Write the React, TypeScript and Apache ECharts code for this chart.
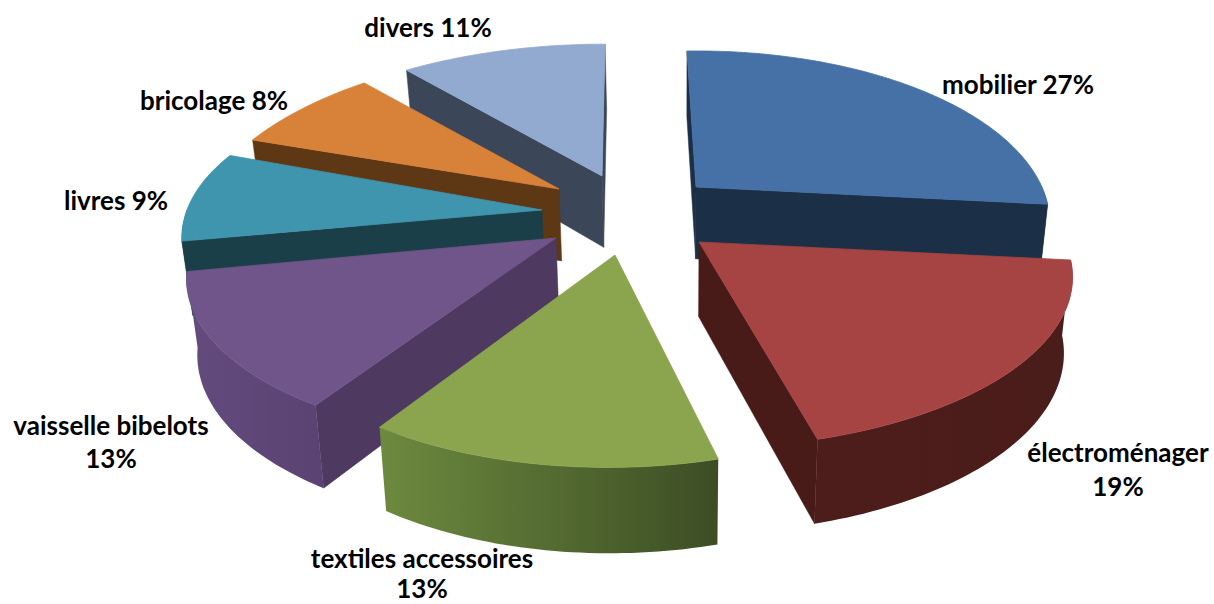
import React, { useEffect, useRef } from "react";
import * as echarts from "echarts";

// Data, in pie order (clockwise from 12 o'clock)
const categories = ["mobilier", "électroménager", "textiles accessoires", "vaisselle bibelots", "livres", "bricolage", "divers"];
const values = [27, 19, 13, 13, 9, 8, 11];
const labelBreak = [false, true, true, true, false, false, false];

// Styles
const topColors = ["#4571a6", "#a54442", "#8aa54e", "#6f5589", "#4095ae", "#d88239", "#92a9d0"];
const sideColors = ["#1b2f47", "#481b18", "#4c6030", "#4e3960", "#1b3f49", "#5e3714", "#3b4658"];
const rimLeft = ["#1b2f47", "#4c1d1b", "#6d8a3f", "#634b7e", "#1b3f49", "#5e3714", "#3b4658"];
const rimRight = ["#1b2f47", "#4a1c1a", "#3c4d24", "#5a4272", "#1b3f49", "#5e3714", "#3b4658"];

// Layout: exploded apex of each slice, per-slice perspective fit, label anchor
const apexX = [696, 699, 615, 556, 542, 559, 602];
const apexY = [187, 242, 255, 238, 210, 189, 176];
const sliceScaleX = [0.94, 0.995, 0.963, 0.983, 0.97, 0.97, 0.985];
const sliceScaleY = [1, 0.99, 1.02, 0.985, 0.97, 1.027, 0.97];
const sliceLean = [9, 5, -7, -7.2, 15, 0, -3];
const sliceShear = [-4, -3, 0, -2, 0, -9.4, 0];
const labelX = [1018, 1118, 422, 111, 116, 214, 428];
const labelY = [84, 469, 573, 441, 200, 100, 27];
const labelLine = [34, 34, 30, 33, 34, 34, 34];
const drawOrder = [6, 5, 4, 0, 3, 1, 2];

const RX = 366;
const RY = 164.5;
const PERSP = 0.21;
const VANISH_X = 680;
const VANISH_K = 0.022;
const FONT = 'bold 26px Lato, "Open Sans", sans-serif';

const total = values.reduce((a, b) => a + b, 0);
const cumulative = values.map((_, i) => values.slice(0, i).reduce((a, b) => a + b, 0));

type P = [number, number];

function rimPoint(i: number, theta: number): P {
  const X = Math.sin(theta);
  const Y = -Math.cos(theta);
  const w = 1 - PERSP * Y;
  return [
    apexX[i] + (sliceScaleX[i] * RX * X) / w + sliceLean[i] * Y,
    apexY[i] + (sliceScaleY[i] * RY * Y) / w + sliceShear[i] * X,
  ];
}

function drop(p: P): P {
  const depth = 72 + 0.05 * (p[1] - 190);
  return [p[0] - (p[0] - VANISH_X) * VANISH_K, p[1] + depth];
}

function arc(i: number, a0: number, a1: number): P[] {
  const n = Math.max(2, Math.ceil(Math.abs(a1 - a0) / 0.02));
  const pts: P[] = [];
  for (let k = 0; k <= n; k++) pts.push(rimPoint(i, a0 + ((a1 - a0) * k) / n));
  return pts;
}

function renderSlice(_params: any, api: any) {
  const i = api.value(0) as number;
  const value = api.value(1) as number;
  const a0 = (cumulative[i] / total) * Math.PI * 2;
  const a1 = a0 + (value / total) * Math.PI * 2;
  const apex: P = [apexX[i], apexY[i]];
  const rim = arc(i, a0, a1);
  const first = rim[0];
  const last = rim[rim.length - 1];
  const children: any[] = [];

  const quad = (a: P, b: P, fill: string) => ({
    type: "polygon",
    silent: true,
    shape: { points: [a, b, drop(b), drop(a)] },
    style: { fill, stroke: fill, lineWidth: 0.5 },
  });

  if (first[0] - apex[0] < 0) children.push(quad(apex, first, sideColors[i]));
  if (last[0] - apex[0] > 0) children.push(quad(apex, last, sideColors[i]));

  const r0 = Math.max(a0, Math.PI / 2);
  const r1 = Math.min(a1, (Math.PI * 3) / 2);
  if (r1 > r0) {
    const front = arc(i, r0, r1);
    const back = front.map(drop).reverse();
    children.push({
      type: "polygon",
      silent: true,
      shape: { points: [...front, ...back] },
      style: {
        fill: new echarts.graphic.LinearGradient(0, 0, 1, 0, [
          { offset: 0, color: rimLeft[i] },
          { offset: 1, color: rimRight[i] },
        ]),
      },
    });
  }

  children.push({
    type: "polygon",
    silent: true,
    shape: { points: [apex, ...rim] },
    style: { fill: topColors[i], stroke: topColors[i], lineWidth: 0.8 },
  });

  const sep = labelBreak[i] ? "\n" : " ";
  children.push({
    type: "text",
    silent: true,
    style: {
      x: labelX[i],
      y: labelY[i],
      text: `${categories[i]}${sep}${value}%`,
      font: FONT,
      fill: "#000000",
      align: "center",
      verticalAlign: "middle",
      lineHeight: labelLine[i],
    },
  });

  return { type: "group", children };
}

export default function App() {
  const ref = useRef<HTMLDivElement>(null);
  useEffect(() => {
    const chart = echarts.init(ref.current!, undefined, { renderer: "svg" });
    chart.setOption({
      animation: false,
      backgroundColor: "#ffffff",
      series: [
        {
          type: "custom",
          coordinateSystem: "none",
          silent: true,
          clip: false,
          data: drawOrder.map((i) => ({ name: categories[i], value: [i, values[i]] })),
          renderItem: renderSlice,
        },
      ],
    });
    return () => chart.dispose();
  }, []);
  return <div ref={ref} style={{ position: "absolute", left: 0, top: 0, width: 1214, height: 604 }} />;
}
